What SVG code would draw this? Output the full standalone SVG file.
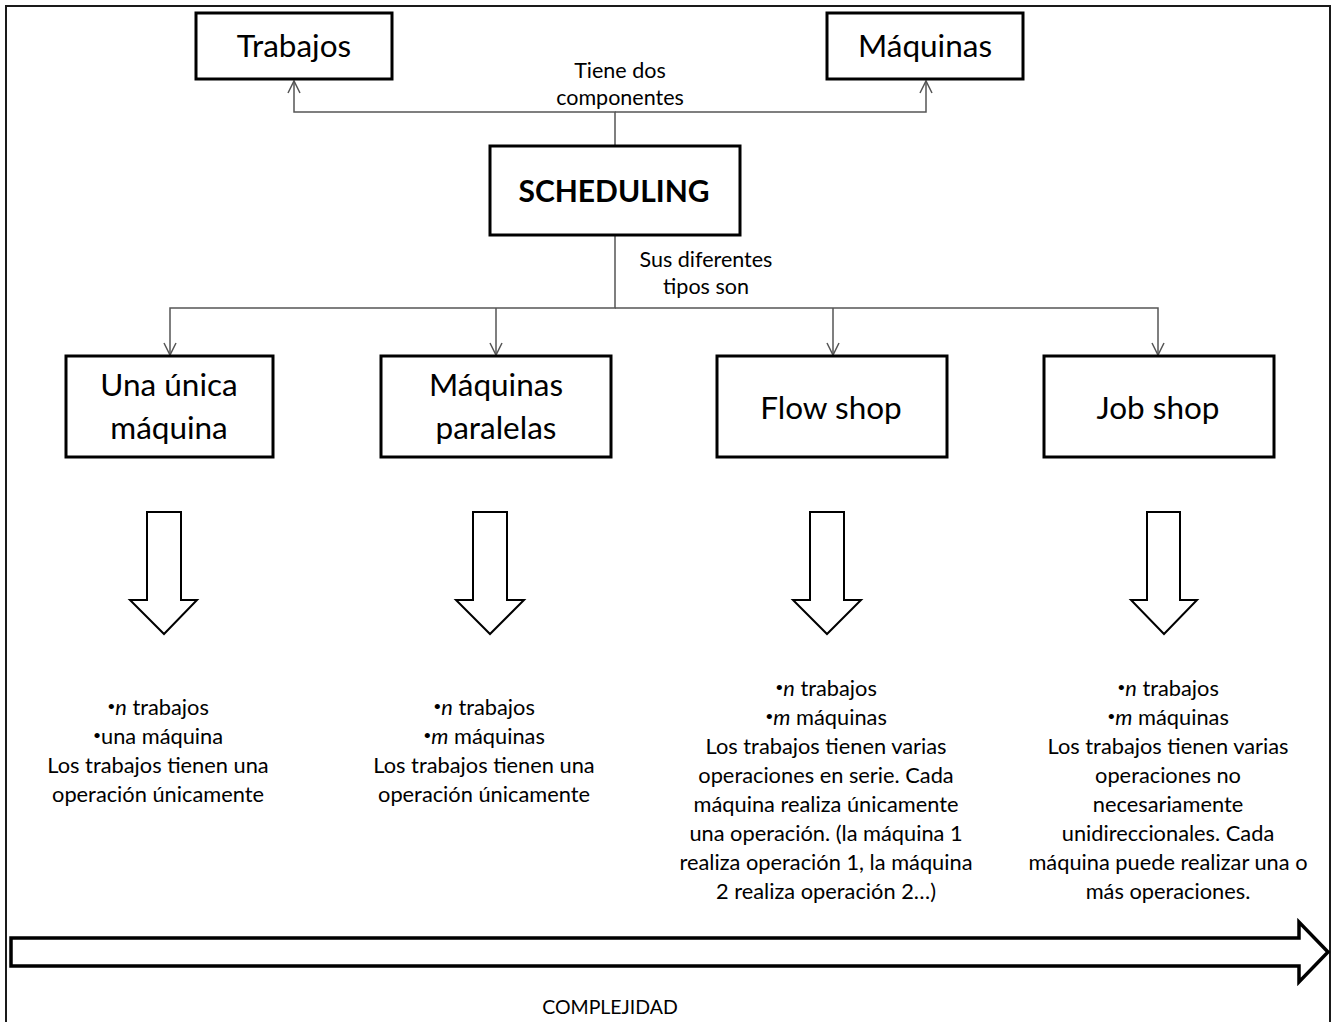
<svg xmlns="http://www.w3.org/2000/svg" width="1333" height="1022" viewBox="0 0 1333 1022">
<style>
.box{fill:#fff;stroke:#000;stroke-width:3}
.lbl{font-family:Lato,"Liberation Sans",sans-serif;font-size:31.5px;fill:#000;text-anchor:middle}
.bold{font-weight:bold;font-size:30px}
.small{font-family:Lato,"Liberation Sans",sans-serif;font-size:21.5px;fill:#000;text-anchor:middle}
.cmp{font-family:Lato,"Liberation Sans",sans-serif;font-size:19.5px;fill:#000;text-anchor:middle}
.body{font-family:Lato,"Liberation Sans",sans-serif;font-size:21.8px;fill:#000;text-anchor:middle}
.conn{fill:none;stroke:#555;stroke-width:1.5}
.barrow{fill:#fff;stroke:#000;stroke-width:2}
.bul{font-size:14px}
</style>
<defs>
<marker id="open" viewBox="-14 -8 16 16" refX="0" refY="0" markerWidth="16" markerHeight="16" markerUnits="userSpaceOnUse" orient="auto">
<path d="M-12,-6 L0,0 L-12,6" fill="none" stroke="#555" stroke-width="1.5"/>
</marker>
</defs>
<rect width="1333" height="1022" fill="#fff"/>
<path d="M6,1022 V6 H1330 V1022" fill="none" stroke="#1a1a1a" stroke-width="2"/>

<g id="connectors">
<path class="conn" d="M615,146 V112 H294 V81" marker-end="url(#open)"/>
<path class="conn" d="M615,112 H926 V81" marker-end="url(#open)"/>
<path class="conn" d="M615,236 V308 H170 V355" marker-end="url(#open)"/>
<path class="conn" d="M615,308 H1158 V355" marker-end="url(#open)"/>
<path class="conn" d="M496,308 V355" marker-end="url(#open)"/>
<path class="conn" d="M833,308 V355" marker-end="url(#open)"/>
<text class="small" x="620" y="78">Tiene dos</text>
<text class="small" x="620" y="105">componentes</text>
<text class="small" x="706" y="267">Sus diferentes</text>
<text class="small" x="706" y="294">tipos son</text>
</g>

<g id="trabajos">
<rect class="box" x="196" y="13" width="196" height="66"/>
<text class="lbl" x="294" y="57">Trabajos</text>
</g>
<g id="maquinas">
<rect class="box" x="827" y="13" width="196" height="66"/>
<text class="lbl" x="925" y="57">Máquinas</text>
</g>
<g id="scheduling">
<rect class="box" x="490" y="146" width="250" height="89"/>
<text class="lbl bold" x="614" y="202">SCHEDULING</text>
</g>

<g id="una-unica">
<rect class="box" x="66" y="356" width="207" height="101"/>
<text class="lbl" x="169" y="396">Una única</text>
<text class="lbl" x="169" y="439">máquina</text>
</g>
<g id="maquinas-paralelas">
<rect class="box" x="381" y="356" width="230" height="101"/>
<text class="lbl" x="496" y="396">Máquinas</text>
<text class="lbl" x="496" y="439">paralelas</text>
</g>
<g id="flow-shop">
<rect class="box" x="717" y="356" width="230" height="101"/>
<text class="lbl" x="831" y="419">Flow shop</text>
</g>
<g id="job-shop">
<rect class="box" x="1044" y="356" width="230" height="101"/>
<text class="lbl" x="1158" y="419">Job shop</text>
</g>

<g id="arrow1"><polygon class="barrow" points="147,512 181,512 181,600 197,600 164,634 130,600 147,600"/></g>
<g id="arrow2"><polygon class="barrow" points="473,512 507,512 507,600 524,600 490,634 456,600 473,600"/></g>
<g id="arrow3"><polygon class="barrow" points="810,512 844,512 844,600 861,600 827,634 793,600 810,600"/></g>
<g id="arrow4"><polygon class="barrow" points="1147,512 1180,512 1180,600 1197,600 1164,634 1131,600 1147,600"/></g>

<g id="desc1">
<text class="body" x="158" y="715"><tspan class="bul" dy="-4">•</tspan><tspan dy="4" font-style="italic">n</tspan> trabajos</text>
<text class="body" x="158" y="744"><tspan class="bul" dy="-4">•</tspan><tspan dy="4">una máquina</tspan></text>
<text class="body" x="158" y="773">Los trabajos tienen una</text>
<text class="body" x="158" y="802">operación únicamente</text>
</g>
<g id="desc2">
<text class="body" x="484" y="715"><tspan class="bul" dy="-4">•</tspan><tspan dy="4" font-style="italic">n</tspan> trabajos</text>
<text class="body" x="484" y="744"><tspan class="bul" dy="-4">•</tspan><tspan dy="4" font-style="italic">m</tspan> máquinas</text>
<text class="body" x="484" y="773">Los trabajos tienen una</text>
<text class="body" x="484" y="802">operación únicamente</text>
</g>
<g id="desc3">
<text class="body" x="826" y="696"><tspan class="bul" dy="-4">•</tspan><tspan dy="4" font-style="italic">n</tspan> trabajos</text>
<text class="body" x="826" y="725"><tspan class="bul" dy="-4">•</tspan><tspan dy="4" font-style="italic">m</tspan> máquinas</text>
<text class="body" x="826" y="754">Los trabajos tienen varias</text>
<text class="body" x="826" y="783">operaciones en serie. Cada</text>
<text class="body" x="826" y="812">máquina realiza únicamente</text>
<text class="body" x="826" y="841">una operación. (la máquina 1</text>
<text class="body" x="826" y="870">realiza operación 1, la máquina</text>
<text class="body" x="826" y="899">2 realiza operación 2…)</text>
</g>
<g id="desc4">
<text class="body" x="1168" y="696"><tspan class="bul" dy="-4">•</tspan><tspan dy="4" font-style="italic">n</tspan> trabajos</text>
<text class="body" x="1168" y="725"><tspan class="bul" dy="-4">•</tspan><tspan dy="4" font-style="italic">m</tspan> máquinas</text>
<text class="body" x="1168" y="754">Los trabajos tienen varias</text>
<text class="body" x="1168" y="783">operaciones no</text>
<text class="body" x="1168" y="812">necesariamente</text>
<text class="body" x="1168" y="841">unidireccionales. Cada</text>
<text class="body" x="1168" y="870">máquina puede realizar una o</text>
<text class="body" x="1168" y="899">más operaciones.</text>
</g>

<g id="complejidad">
<polygon points="11,938 1299,938 1299,922 1328,952 1299,982 1299,966 11,966" fill="#fff" stroke="#000" stroke-width="3.5" stroke-linejoin="miter"/>
<text class="cmp" x="610" y="1014">COMPLEJIDAD</text>
</g>
</svg>
